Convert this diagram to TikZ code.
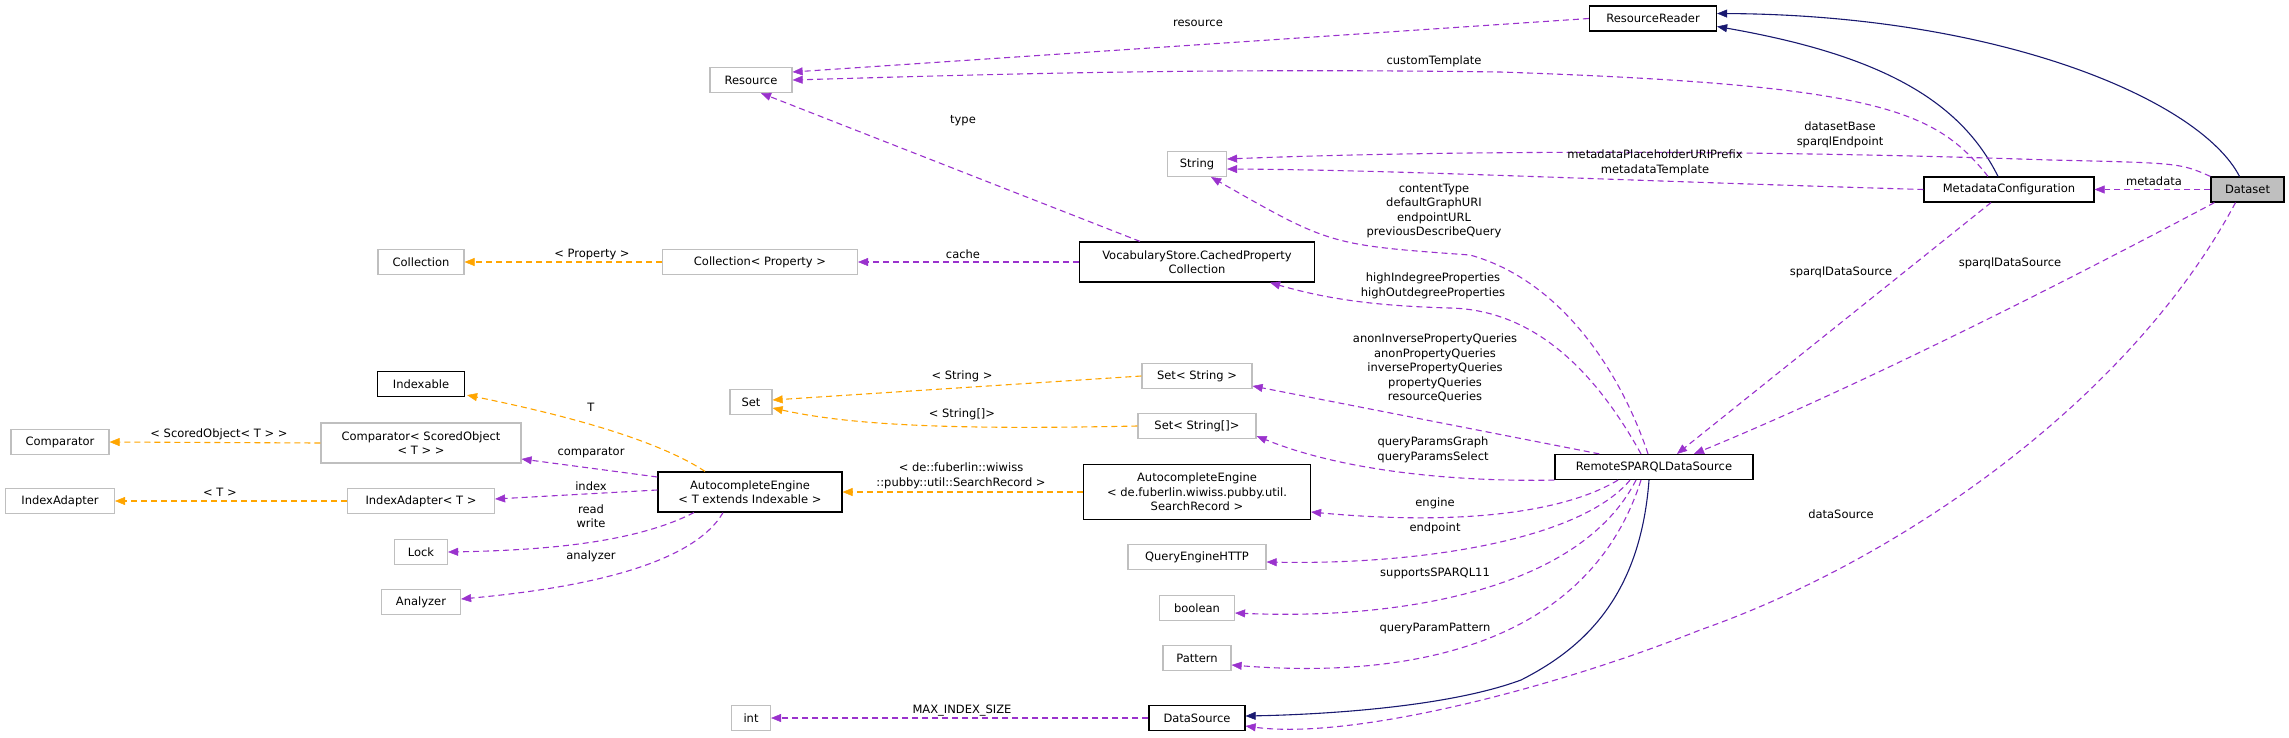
\documentclass[tikz,border=0pt]{standalone}
\usepackage{fontspec}
\setmainfont{DejaVu Sans}
\usetikzlibrary{arrows.meta,calc}
\definecolor{cpurple}{HTML}{9A32CD}
\definecolor{corange}{HTML}{FFA500}
\definecolor{cnavy}{HTML}{191970}
\definecolor{cgray}{HTML}{BFBFBF}
\begin{document}
\begin{tikzpicture}[x=1pt,y=-1pt,
  every node/.style={font=\fontsize{11.5}{14.5}\selectfont},
  box/.style={draw=black,line width=1.2pt,fill=white,minimum height=25pt,inner sep=0pt,align=center},
  gbox/.style={draw=cgray,line width=1.2pt,fill=white,minimum height=25pt,inner sep=0pt,align=center},
  lbl/.style={inner sep=0pt,align=center},
  tip/.style={-{Triangle[length=10pt,width=8pt,fill=#1,line width=0.5pt]}},
  comp/.style={tip=cpurple,draw=cpurple,line width=1.1pt,dash pattern=on 6pt off 4pt},
  tmpl/.style={tip=corange,draw=corange,line width=1.1pt,dash pattern=on 6pt off 4pt},
  inh/.style={tip=cnavy,draw=cnavy,line width=1.1pt}]
\useasboundingbox (0,0) rectangle (2289,737);
% nodes
\node[box,minimum width=127pt] (rr) at (1653,18.5) {ResourceReader};
\node[gbox,minimum width=82pt] (res) at (751,80) {Resource};
\node[gbox,minimum width=59pt] (str) at (1197,164) {String};
\node[box,minimum width=170pt] (mc) at (2009,189.5) {MetadataConfiguration};
\node[box,minimum width=73pt,fill=cgray] (ds) at (2247.5,189.5) {Dataset};
\node[box,minimum width=235pt,minimum height=40pt] (vs) at (1197,262) {VocabularyStore.CachedProperty\\Collection};
\node[gbox,minimum width=86pt] (coll) at (421,262) {Collection};
\node[gbox,minimum width=195pt] (cp) at (760,262) {Collection< Property >};
\node[box,minimum width=87pt] (idx) at (421,384) {Indexable};
\node[gbox,minimum width=42pt] (set) at (751,402) {Set};
\node[gbox,minimum width=110pt] (ss) at (1197,376) {Set< String >};
\node[gbox,minimum width=118pt] (ss2) at (1197,426) {Set< String[]>};
\node[gbox,minimum width=98pt] (comparator) at (60,442) {Comparator};
\node[gbox,minimum width=200pt,minimum height=40pt] (cso) at (421,443) {Comparator< ScoredObject\\< T > >};
\node[gbox,minimum width=109pt] (ia) at (60,501) {IndexAdapter};
\node[gbox,minimum width=147pt] (iat) at (421,501) {IndexAdapter< T >};
\node[gbox,minimum width=53pt] (lock) at (421,552) {Lock};
\node[gbox,minimum width=79pt] (an) at (421,602) {Analyzer};
\node[box,minimum width=184pt,minimum height=40pt] (ae) at (750,492) {AutocompleteEngine\\< T extends Indexable >};
\node[box,minimum width=198pt] (rs) at (1654,467) {RemoteSPARQLDataSource};
\node[box,minimum width=227pt,minimum height=55pt] (aed) at (1197,492) {AutocompleteEngine\\< de.fuberlin.wiwiss.pubby.util.\\SearchRecord >};
\node[gbox,minimum width=138pt] (qe) at (1197,557) {QueryEngineHTTP};
\node[gbox,minimum width=75pt] (bool) at (1197,608) {boolean};
\node[gbox,minimum width=68pt] (pat) at (1197,658) {Pattern};
\node[box,minimum width=96pt] (dsrc) at (1197,718) {DataSource};
\node[gbox,minimum width=39pt] (int) at (751,718) {int};
% inheritance
\draw[inh] ($(ds.north)+(-8,0)$) .. controls (2200,100) and (2000,15) .. ($(rr.east)+(0,-5)$);
\draw[inh] ($(mc.north)+(-11,0)$) .. controls (1960,100) and (1880,55) .. ($(rr.east)+(0,8)$);
\draw[inh] ($(rs.south)+(-5,0)$) .. controls (1640,600) and (1580,650) .. (1521,680) .. controls (1440,710) and (1300,715) .. ($(dsrc.east)+(0,-2)$);
% composition
\draw[comp] (rr.west) -- ($(res.east)+(0,-8)$);
\draw[comp] ($(mc.north)+(-21,0)$) .. controls (1935,110) and (1880,85) .. (1500,72) .. controls (1200,68) and (1000,74) .. (res.east);
\draw[comp] (ds.north west) .. controls (2180,163) .. (2050,160) .. controls (1700,148) and (1400,152) .. ($(str.east)+(0,-5)$);
\draw[comp] (mc.west) .. controls (1600,180) and (1400,170) .. ($(str.east)+(0,5)$);
\draw[comp] (ds.west) -- (mc.east);
\draw[comp] ($(vs.north)+(-57,0)$) -- ($(res.south)+(10,0)$);
\draw[comp] ($(rs.north)+(-6,0)$) .. controls (1620,370) and (1560,280) .. (1470,255) .. controls (1330,245) .. ($(str.south east)+(-16,0)$);
\draw[comp] (vs.west) -- (cp.east);
\draw[comp] ($(rs.north)+(-13,0)$) .. controls (1600,380) and (1540,310) .. (1450,308) .. controls (1380,306) and (1330,300) .. ($(vs.south east)+(-45,0)$);
\draw[comp] ($(rs.north west)+(45,0)$) -- ($(ss.east)+(0,10)$);
\draw[comp] (rs.south west) .. controls (1450,482) and (1340,470) .. ($(ss2.east)+(0,10)$);
\draw[comp] ($(rs.south)+(-36,0)$) .. controls (1560,515) and (1450,525) .. ($(aed.east)+(0,20)$);
\draw[comp] ($(rs.south)+(-24,0)$) .. controls (1580,540) and (1420,565) .. ($(qe.east)+(0,5)$);
\draw[comp] ($(rs.south)+(-18,0)$) .. controls (1580,590) and (1400,620) .. ($(bool.east)+(0,5)$);
\draw[comp] ($(rs.south)+(-13,0)$) .. controls (1590,640) and (1420,680) .. ($(pat.east)+(0,7)$);
\draw[comp] ($(mc.south)+(-18,0)$) -- ($(rs.north)+(23,0)$);
\draw[comp] ($(ds.south west)+(4,0)$) .. controls (2050,290) and (1850,390) .. ($(rs.north)+(40,0)$);
\draw[comp] ($(ds.south)+(-12,0)$) .. controls (2130,400) and (1900,560) .. (1700,630) .. controls (1550,690) and (1350,740) .. ($(dsrc.east)+(0,8)$);
\draw[comp] (dsrc.west) -- (int.east);
\draw[comp] ($(ae.west)+(0,-15)$) -- ($(cso.east)+(0,16)$);
\draw[comp] ($(ae.west)+(0,-2)$) -- ($(iat.east)+(0,-2)$);
\draw[comp] ($(ae.south)+(-56,0)$) .. controls (640,540) and (560,550) .. (lock.east);
\draw[comp] ($(ae.south)+(-27,0)$) .. controls (690,570) and (560,590) .. ($(an.east)+(0,-3)$);
% templates
\draw[tmpl] (cp.west) -- (coll.east);
\draw[tmpl] (ss.west) -- ($(set.east)+(0,-2)$);
\draw[tmpl] (ss2.west) .. controls (950,430) and (850,425) .. ($(set.east)+(0,6)$);
\draw[tmpl] (aed.west) -- (ae.east);
\draw[tmpl] ($(ae.north)+(-45,0)$) .. controls (650,435) and (540,410) .. ($(idx.south east)+(2,-2)$);
\draw[tmpl] (cso.west) -- (comparator.east);
\draw[tmpl] (iat.west) -- (ia.east);
% labels
\node[lbl] (l1) at (1198,23) {resource};
\node[lbl] (l2) at (1434,61) {customTemplate};
\node[lbl] (l3) at (963,121) {type};
\node[lbl] (l4) at (1840,135) {datasetBase\\sparqlEndpoint};
\node[lbl] (l5) at (1655,163) {metadataPlaceholderURIPrefix\\metadataTemplate};
\node[lbl] (l6) at (2154,181) {metadata};
\node[lbl] (l7) at (1434,211) {contentType\\defaultGraphURI\\endpointURL\\previousDescribeQuery};
\node[lbl] (l8) at (963,254) {cache};
\node[lbl] (l9) at (592,254) {< Property >};
\node[lbl] (l10) at (1433,286) {highIndegreeProperties\\highOutdegreeProperties};
\node[lbl] (l11) at (1435,368) {anonInversePropertyQueries\\anonPropertyQueries\\inversePropertyQueries\\propertyQueries\\resourceQueries};
\node[lbl] (l12) at (962,376) {< String >};
\node[lbl] (l13) at (962,414) {< String[]>};
\node[lbl] (l14) at (591,407) {T};
\node[lbl] (l15) at (219,434) {< ScoredObject< T > >};
\node[lbl] (l16) at (591,453) {comparator};
\node[lbl] (l17) at (1433,450) {queryParamsGraph\\queryParamsSelect};
\node[lbl] (l18) at (961,476) {< de::fuberlin::wiwiss\\::pubby::util::SearchRecord >};
\node[lbl] (l19) at (591,486) {index};
\node[lbl] (l20) at (220,492) {< T >};
\node[lbl] (l21) at (1435,503) {engine};
\node[lbl] (l22) at (591,516) {read\\write};
\node[lbl] (l23) at (1435,528) {endpoint};
\node[lbl] (l24) at (591,556) {analyzer};
\node[lbl] (l25) at (1435,573) {supportsSPARQL11};
\node[lbl] (l26) at (1435,628) {queryParamPattern};
\node[lbl] (l27) at (962,711) {MAX\_INDEX\_SIZE};
\node[lbl] (l28) at (1841,272) {sparqlDataSource};
\node[lbl] (l29) at (2010,263) {sparqlDataSource};
\node[lbl] (l30) at (1841,514) {dataSource};
\end{tikzpicture}
\end{document}
